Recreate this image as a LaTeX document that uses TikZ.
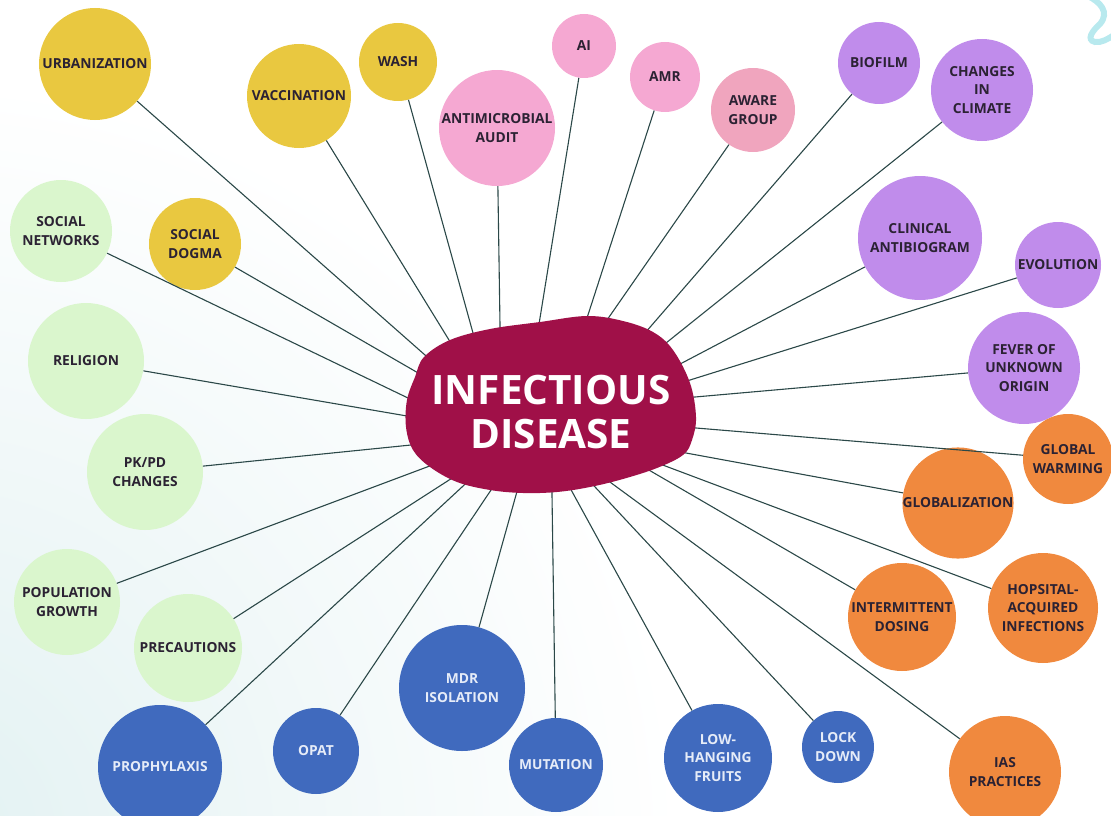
\documentclass[tikz,border=0pt]{standalone}
\usepackage{fontspec}
\newfontfamily\osans{Open Sans}
\begin{document}
\definecolor{yel}{HTML}{E9C840}
\definecolor{grn}{HTML}{DAF6CD}
\definecolor{pnk}{HTML}{F5A8D2}
\definecolor{rose}{HTML}{F0A5BE}
\definecolor{pur}{HTML}{C08CEB}
\definecolor{org}{HTML}{F0893E}
\definecolor{blu}{HTML}{406ABE}
\definecolor{blobc}{HTML}{A01048}
\definecolor{linkc}{HTML}{2B4848}
\definecolor{txt}{HTML}{2B2233}
\definecolor{lighttxt}{HTML}{E6ECF8}
\definecolor{bgteal}{HTML}{E2F1F2}
\definecolor{squig}{HTML}{B8E9EE}
\begin{tikzpicture}[x=1pt,y=-1pt,
  bub/.style={circle, inner sep=0pt, align=center, text=txt,
    font=\osans\bfseries\fontsize{13.8}{18.5}\selectfont},
  yb/.style={bub, fill=yel}, gb/.style={bub, fill=grn},
  pb/.style={bub, fill=pnk}, rb/.style={bub, fill=rose},
  vb/.style={bub, fill=pur}, ob/.style={bub, fill=org},
  bb/.style={bub, fill=blu, text=lighttxt},
  link/.style={draw=linkc, line width=1.1pt, shorten >=-12pt}]
\useasboundingbox (0,0) rectangle (1111,816);
% soft teal tint in the lower left corner
\begin{scope}
  \clip (0,0) rectangle (1111,816);
  \shade[inner color=bgteal, outer color=white] (-80,840) circle (760pt);
\end{scope}
% decorative squiggle, top right
\draw[squig, line width=6pt, line cap=round]
  (1088,-4) .. controls (1100,2) and (1110,12) .. (1100,24)
  .. controls (1092,31) and (1086,40) .. (1095,42)
  .. controls (1101,43) and (1108,39) .. (1114,35);

% topic bubbles
\node[yb, minimum size=112pt] (urb) at (95,64) {URBANIZATION};
\node[yb, minimum size=104pt] (vac) at (299,96) {VACCINATION};
\node[yb, minimum size=78pt] (wash) at (398,62) {WASH};
\node[yb, minimum size=92pt] (sd) at (195,244) {SOCIAL\\DOGMA};
\node[pb, minimum size=116pt] (audit) at (497,128) {ANTIMICROBIAL\\AUDIT};
\node[pb, minimum size=64pt] (ai) at (584,46) {AI};
\node[pb, minimum size=70pt] (amr) at (665,77) {AMR};
\node[rb, minimum size=84pt] (aware) at (753,110) {AWARE\\GROUP};
\node[vb, minimum size=82pt] (bio) at (879,63) {BIOFILM};
\node[vb, minimum size=102pt] (clim) at (982,90) {CHANGES\\IN\\CLIMATE};
\node[vb, minimum size=124pt] (clin) at (920,238) {CLINICAL\\ANTIBIOGRAM};
\node[vb, minimum size=86pt] (evo) at (1058,265) {EVOLUTION};
\node[vb, minimum size=112pt] (fever) at (1024,368) {FEVER OF\\UNKNOWN\\ORIGIN};
\node[ob, minimum size=90pt] (gw) at (1068,459) {GLOBAL\\WARMING};
\node[ob, minimum size=106pt] (glob) at (958,503) {GLOBALIZATION};
\node[ob, minimum size=110pt] (hosp) at (1043,608) {HOPSITAL-\\ACQUIRED\\INFECTIONS};
\node[ob, minimum size=108pt] (inter) at (902,617) {INTERMITTENT\\DOSING};
\node[ob, minimum size=112pt] (ias) at (1005,772) {IAS\\PRACTICES};
\node[bb, minimum size=72pt] (lock) at (838,747) {LOCK\\DOWN};
\node[bb, minimum size=108pt] (low) at (718,758) {LOW-\\HANGING\\FRUITS};
\node[bb, minimum size=94pt] (mut) at (556,765) {MUTATION};
\node[bb, minimum size=126pt] (mdr) at (462,688) {MDR\\ISOLATION};
\node[bb, minimum size=86pt] (opat) at (316,751) {OPAT};
\node[bb, minimum size=124pt] (pro) at (160,767) {PROPHYLAXIS};
\node[gb, minimum size=108pt] (prec) at (188,648) {PRECAUTIONS};
\node[gb, minimum size=106pt] (pop) at (67,602) {POPULATION\\GROWTH};
\node[gb, minimum size=116pt] (pkpd) at (145,472) {PK/PD\\CHANGES};
\node[gb, minimum size=116pt] (rel) at (86,361) {RELIGION};
\node[gb, minimum size=102pt] (sn) at (61,231) {SOCIAL\\NETWORKS};

% where each spoke meets the central shape
\coordinate (t-urb) at (425,355);
\coordinate (t-vac) at (449,340);
\coordinate (t-wash) at (473,333);
\coordinate (t-audit) at (500,325);
\coordinate (t-ai) at (540,318);
\coordinate (t-amr) at (587,318);
\coordinate (t-aware) at (607,320);
\coordinate (t-bio) at (645,333);
\coordinate (t-clim) at (666,343);
\coordinate (t-clin) at (682,363);
\coordinate (t-evo) at (690,380);
\coordinate (t-fever) at (695,397);
\coordinate (t-gw) at (696,428);
\coordinate (t-glob) at (686,453);
\coordinate (t-hosp) at (668,467);
\coordinate (t-inter) at (654,473);
\coordinate (t-ias) at (614,485);
\coordinate (t-lock) at (596,488);
\coordinate (t-low) at (575,497);
\coordinate (t-mut) at (552,495);
\coordinate (t-mdr) at (516,495);
\coordinate (t-opat) at (489,493);
\coordinate (t-pro) at (462,487);
\coordinate (t-prec) at (446,482);
\coordinate (t-pop) at (427,467);
\coordinate (t-pkpd) at (411,445);
\coordinate (t-rel) at (407,416);
\coordinate (t-sn) at (408,398);
\coordinate (t-sd) at (413,370);

% spokes
\foreach \n in {urb,vac,wash,audit,ai,amr,aware,bio,clim,clin,evo,fever,gw,glob,hosp,inter,ias,lock,low,mut,mdr,opat,pro,prec,pop,pkpd,rel,sn,sd}
  \draw[link] (\n) -- (t-\n);

% central shape
\fill[blobc] plot[smooth cycle, tension=0.6] coordinates {
  (407,400) (415,377) (424,357) (450,340) (490,329) (540,322) (587,316)
  (623,321) (653,332) (673,350) (690,383) (696,417) (692,440) (683,455)
  (657,468) (623,479) (590,487) (557,492) (523,493) (490,490) (457,482)
  (430,467) (413,450) (406,427)};
\node[align=center, text=white, inner sep=0pt,
  font=\osans\bfseries\fontsize{40.5}{44}\selectfont] (hub) at (551,412)
  {INFECTIOUS\\DISEASE};
\end{tikzpicture}
\end{document}
